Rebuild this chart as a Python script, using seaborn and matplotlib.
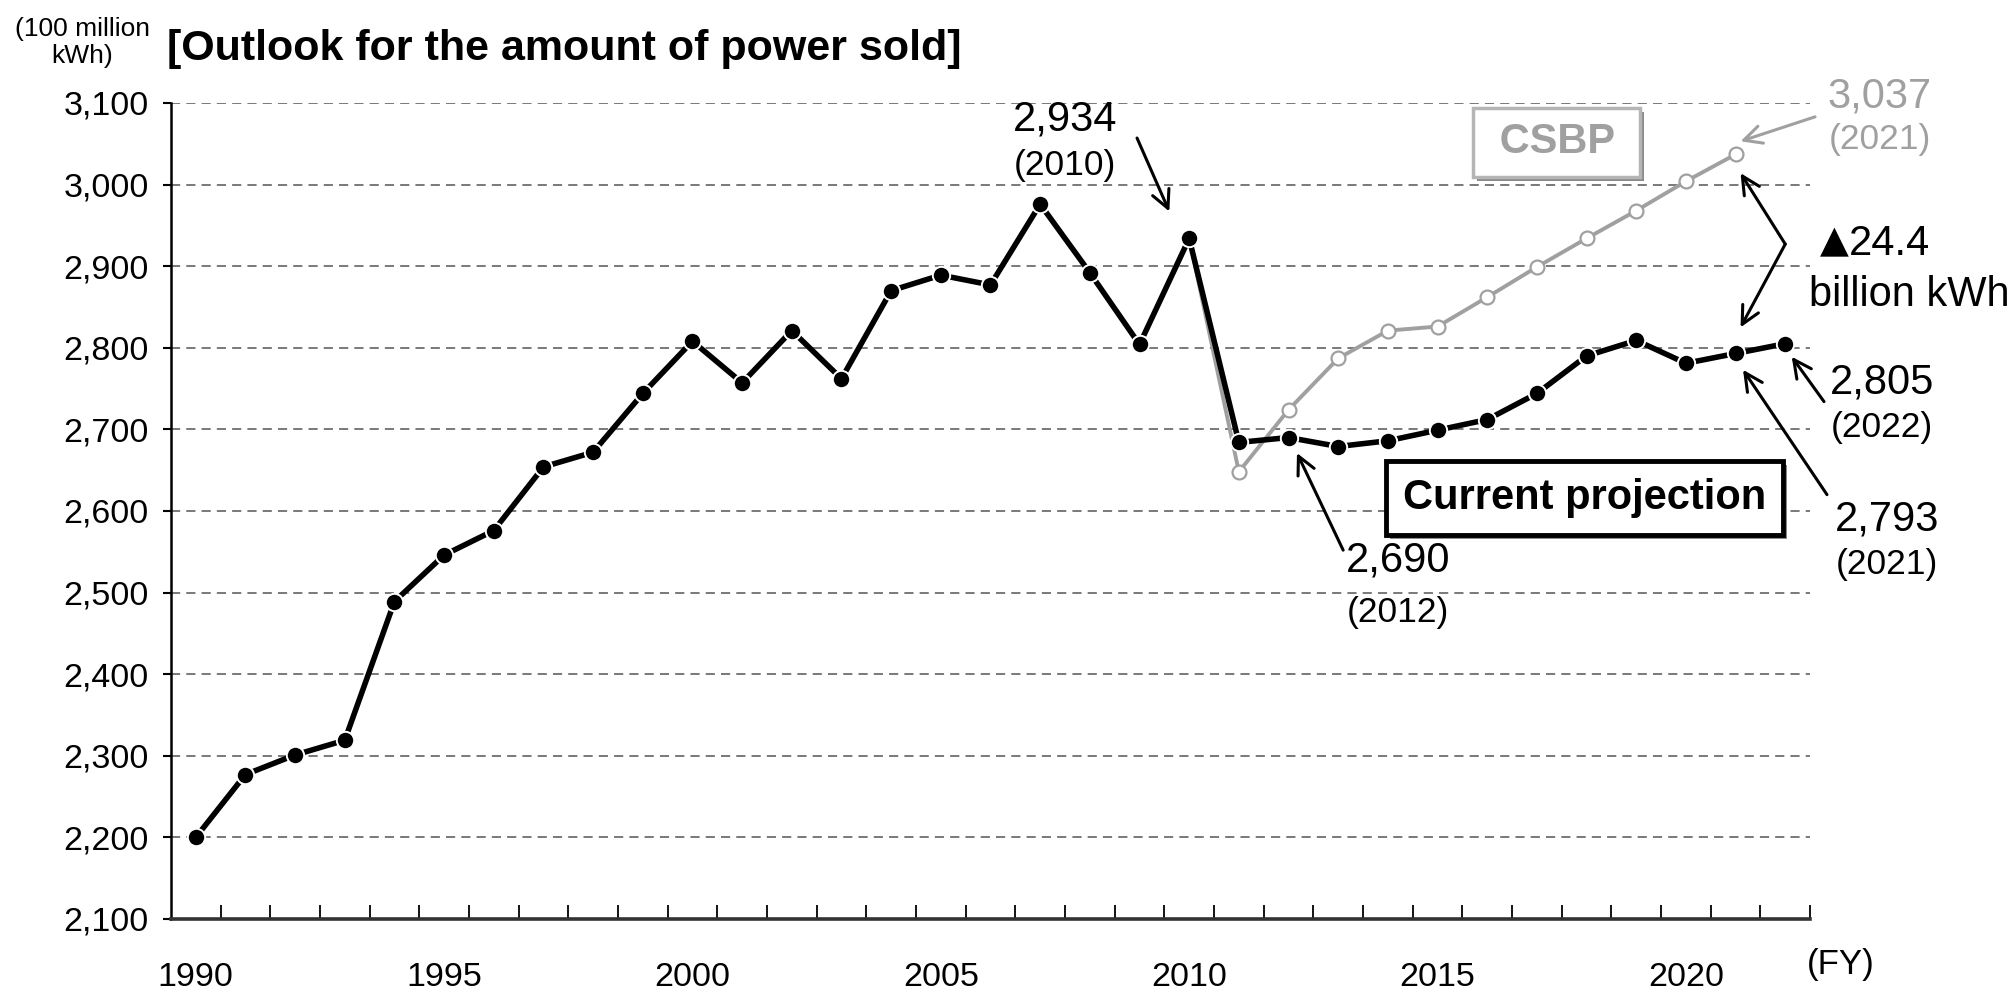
import numpy as np
import pandas as pd
import matplotlib
matplotlib.use("Agg")
import matplotlib.pyplot as plt
import matplotlib.patheffects as pe
from matplotlib.ticker import FuncFormatter, MultipleLocator, FixedLocator
import seaborn as sns

# ---- data (100 million kWh) ----
actual_years = list(range(1990, 2023))
actual_values = [2200, 2277, 2301, 2319, 2489, 2546, 2576, 2654, 2672, 2744,
                 2808, 2757, 2821, 2762, 2870, 2889, 2877, 2976, 2892, 2804,
                 2934, 2684, 2690, 2679, 2686, 2699, 2712, 2744, 2790, 2809,
                 2781, 2793, 2805]
csbp_years = list(range(2010, 2022))
csbp_values = [2934, 2648, 2724, 2787, 2821, 2826, 2862, 2899, 2934, 2968,
               3004, 3037]
label_years = [1990, 1995, 2000, 2005, 2010, 2015, 2020]

df_actual = pd.DataFrame({"year": actual_years, "value": actual_values})
df_csbp = pd.DataFrame({"year": csbp_years, "value": csbp_values})

sns.set_theme(style="white")
plt.rcParams["font.family"] = ["Liberation Sans", "DejaVu Sans"]
plt.rcParams["text.color"] = "black"
plt.rcParams["xtick.color"] = "black"
plt.rcParams["ytick.color"] = "black"
plt.rcParams["xtick.labelcolor"] = "black"
plt.rcParams["ytick.labelcolor"] = "black"

GRAY = "#a0a0a0"

fig = plt.figure(figsize=(20.13, 9.89), dpi=100)
ax = fig.add_axes([0.0849, 0.0708, 0.8143, 0.8251])

sns.lineplot(data=df_csbp, x="year", y="value", ax=ax, color=GRAY, lw=2.8,
             marker="o", markersize=10, markerfacecolor="white",
             markeredgecolor=GRAY, markeredgewidth=1.6, zorder=3)
sns.lineplot(data=df_actual, x="year", y="value", ax=ax, color="black", lw=4,
             marker="o", markersize=12.5, markerfacecolor="black",
             markeredgecolor="white", markeredgewidth=1.4, zorder=4)

ax.set_xlim(1989.5, 2022.5)
ax.set_ylim(2100, 3100)
ax.set_xlabel("")
ax.set_ylabel("")

# grid
ax.yaxis.set_major_locator(MultipleLocator(100))
for v in range(2200, 3101, 100):
    ax.axhline(v, color="#555555", lw=1.1, ls=(0, (6, 4)), zorder=1)
ax.yaxis.set_major_formatter(FuncFormatter(lambda v, p: f"{int(v):,}"))

# spines
for s in ["top", "right"]:
    ax.spines[s].set_visible(False)
ax.spines["left"].set_color("black")
ax.spines["left"].set_linewidth(1.8)
ax.spines["bottom"].set_color("#333333")
ax.spines["bottom"].set_linewidth(2.6)

ax.tick_params(axis="y", direction="out", length=6, width=1.5, color="black",
               labelsize=24.5, pad=10, left=True)
ax.xaxis.set_major_locator(FixedLocator(label_years))
ax.xaxis.set_minor_locator(FixedLocator(np.arange(1990.5, 2023, 1.0)))
ax.tick_params(axis="x", which="major", length=0, labelsize=24.5, pad=31)
ax.tick_params(axis="x", which="minor", direction="in", length=10, width=1.3,
               color="black", bottom=True)

# title & unit
fig.text(0.083, 0.950, "[Outlook for the amount of power sold]", fontsize=31,
         fontweight="bold", ha="left", va="center")
fig.text(0.041, 0.957, "(100 million\nkWh)", fontsize=19, ha="center",
         va="center", linespacing=1.2)
ax.text(1.019, -0.056, "(FY)", transform=ax.transAxes, fontsize=25,
        ha="center", va="center", clip_on=False)

arrow_kw = dict(arrowstyle="->", lw=2.2, color="black", mutation_scale=32,
                shrinkA=0, shrinkB=0)


def label(x, y, val, yr, color="black"):
    ax.text(x, y[0], val, fontsize=30, ha="center", va="center", color=color,
            clip_on=False)
    ax.text(x, y[1], yr, fontsize=25.5, ha="center", va="center", color=color,
            clip_on=False)


# 2010 peak
ax.annotate("", xy=(2009.6, 2967), xytext=(2008.95, 3057),
            arrowprops=arrow_kw, annotation_clip=False)
label(2007.5, (3080, 3023), "2,934", "(2010)")

# CSBP end point
ax.annotate("", xy=(2021.1, 3053), xytext=(2022.6, 3083),
            arrowprops=dict(arrow_kw, color=GRAY), annotation_clip=False)
label(2023.9, (3108, 3055), "3,037", "(2021)", color=GRAY)

# gap bracket
for tip in [(2021.1, 3014), (2021.1, 2825)]:
    ax.annotate("", xy=tip, xytext=(2022.0, 2927), arrowprops=arrow_kw,
                annotation_clip=False)
ax.text(2023.28, 2927, "24.4", fontsize=30, ha="left", va="center",
        clip_on=False)
ax.text(2023.28, 2929, "▲", fontsize=27, ha="right", va="center",
        family=["DejaVu Sans"], clip_on=False)
ax.text(2024.5, 2865, "billion kWh", fontsize=30, ha="center", va="center",
        clip_on=False)

# 2012
ax.annotate("", xy=(2012.17, 2671), xytext=(2013.1, 2552),
            arrowprops=arrow_kw, annotation_clip=False)
label(2014.2, (2539, 2476), "2,690", "(2012)")

# 2021
ax.annotate("", xy=(2021.15, 2773), xytext=(2022.84, 2620),
            arrowprops=arrow_kw, annotation_clip=False)
label(2024.05, (2590, 2534), "2,793", "(2021)")

# 2022
ax.annotate("", xy=(2022.13, 2789), xytext=(2022.78, 2734),
            arrowprops=arrow_kw, annotation_clip=False)
label(2023.95, (2757, 2702), "2,805", "(2022)")


def boxed(x, y, txt, color, edge, lw, pad):
    t = ax.text(x, y, txt, fontsize=30, fontweight="bold", ha="center",
                va="center", color=color, zorder=6,
                bbox=dict(boxstyle=f"square,pad={pad}", fc="white", ec=edge,
                          lw=lw))
    t.get_bbox_patch().set_path_effects([
        pe.SimplePatchShadow(offset=(3, -3), shadow_rgbFace="#8a8a8a",
                             alpha=1.0),
        pe.Normal(),
    ])


boxed(2017.4, 3052, " CSBP ", GRAY, "#b5b5b5", 2.5, 0.35)
boxed(2017.96, 2616, "Current projection", "black", "black", 3.5, 0.4)

fig.savefig("out.png", dpi=100)
